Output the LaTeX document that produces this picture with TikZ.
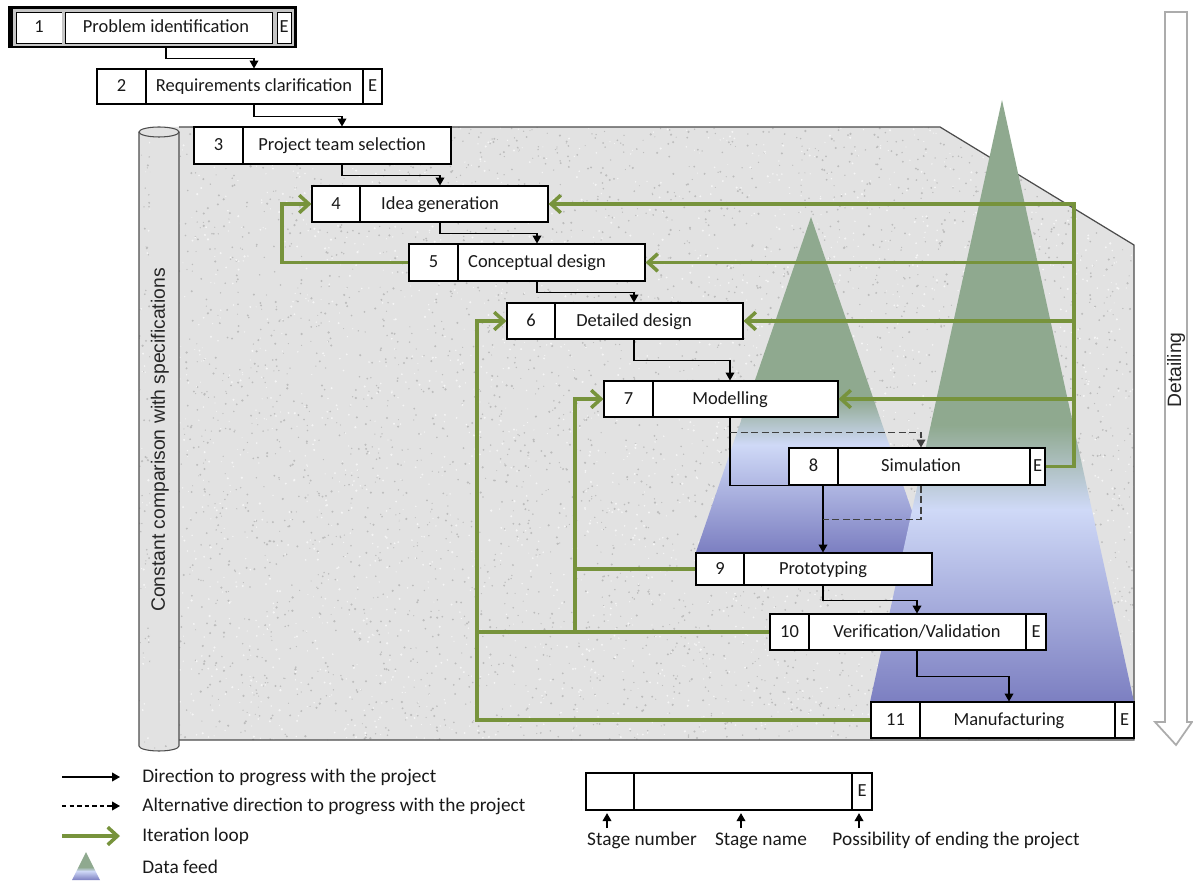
\documentclass[tikz,border=0pt]{standalone}
\usepackage{fontspec}
\setmainfont{Carlito}
\newfontfamily\arialfont{Liberation Sans}
\usetikzlibrary{arrows.meta,fit,calc}

\definecolor{granite}{HTML}{E2E2E2}
\definecolor{speckdark}{HTML}{BCBCBC}
\definecolor{specklight}{HTML}{F5F5F5}
\definecolor{iterG}{HTML}{77933C}
\definecolor{feedG}{HTML}{8FA98F}
\definecolor{feedL}{HTML}{CFD9F7}
\definecolor{feedD}{HTML}{7C7FC1}
\pgfdeclareverticalshading{feedshade}{100bp}{color(0bp)=(feedD); color(25bp)=(feedD); color(41bp)=(feedL); color(48bp)=(feedG); color(100bp)=(feedG)}

\tikzset{
  stagebox/.style={draw=black, line width=0.6pt, fill=white, inner sep=0pt},
  boldcell/.style={draw=black, line width=0.5pt, fill=white, inner sep=0pt,
    preaction={draw=gray!45, line width=3.5pt}},
  cellline/.style={draw=black, line width=0.6pt},
  celltext/.style={font=\fontsize{10.5}{12}\selectfont, text=black!90, inner sep=0pt,
    text height=8pt, text depth=1.8pt},
  legendtext/.style={font=\fontsize{11}{13}\selectfont, text=black!90, inner sep=0pt,
    text height=8pt, text depth=2pt},
  flow/.style={draw=black, line width=0.6pt, -{Triangle[length=4.5pt,width=5pt]}},
  altflow/.style={draw=black!75, line width=0.6pt, dash pattern=on 4pt off 2pt,
    -{Triangle[length=4.5pt,width=5pt]}},
  altline/.style={draw=black!75, line width=0.6pt, dash pattern=on 4pt off 2pt},
  iter/.style={draw=iterG, line width=2pt},
  iterarrow/.style={iter, -{Straight Barb[length=5.5pt,width=10pt]}},
  sidetext/.style={rotate=90, font=\arialfont\fontsize{11}{13}\selectfont, text=black!85, inner sep=0pt},
}

% stage box: name, x1, y1, x2, y2, divider x, E divider x (0 = none), number
\newcommand\stage[8]{%
  \node[stagebox, fit={(#2,#3) (#4,#5)}] (#1) {};
  \draw[cellline] (#6,#3) -- (#6,#5);
  \node[celltext] (#1n) at ({(#2+#6)/2},{(#3+#5)/2}) {#8};
  \ifnum#7>0
    \draw[cellline] (#7,#3) -- (#7,#5);
    \node[celltext] (#1e) at ({(#7+#4)/2},{(#3+#5)/2}) {E};
  \fi
}

\begin{document}
\begin{tikzpicture}[x=0.02cm, y=-0.02cm]
\useasboundingbox (0,0) rectangle (1193,881);

% textured work area and the specification cylinder
\fill[granite] (150,127) -- (940,127) -- (1134,245) -- (1134,740) -- (150,740) -- cycle;
\fill[granite] (139,132) -- (139,746)
  arc[start angle=180, end angle=360, x radius=0.4cm, y radius=0.1cm]
  -- (179,132) arc[start angle=0, end angle=180, x radius=0.4cm, y radius=0.1cm] -- cycle;
\begin{scope}
  \clip (150,127) -- (940,127) -- (1134,245) -- (1134,740) -- (150,740) -- cycle
        (139,127) rectangle (179,752);
  \pgfmathsetseed{4242}
  \foreach \i in {1,...,4200} {
    \fill[speckdark] ({139+995*rnd},{127+625*rnd}) circle ({0.3pt+0.4pt*rnd});
  }
  \foreach \i in {1,...,2600} {
    \fill[specklight] ({139+995*rnd},{127+625*rnd}) circle ({0.3pt+0.4pt*rnd});
  }
\end{scope}
\draw[black!70, line width=0.7pt] (179,127) -- (940,127) -- (1134,245) -- (1134,740) -- (179,740);
\draw[black!70, line width=0.6pt] (139,132) -- (139,746)
  arc[start angle=180, end angle=360, x radius=0.4cm, y radius=0.1cm] -- (179,132);
\draw[black!70, line width=0.6pt, fill=granite] (159,132) ellipse [x radius=0.4cm, y radius=0.1cm];
\node[sidetext] (spec) at (160,440) {Constant comparison with specifications};

% data feed cones
\shade[shading=feedshade] (811,217) -- (926,552) -- (696,552) -- cycle;
\shade[shading=feedshade] (1002,100) -- (1134,702) -- (870,702) -- cycle;

% detailing arrow
\draw[gray!65, line width=1pt, fill=white] (1165,12) -- (1187,12) -- (1187,722) -- (1192,722)
  -- (1176,745) -- (1155,722) -- (1165,722) -- cycle;
\node[sidetext] (det) at (1176,370) {Detailing};

% stage 1 with its bold frame
\node[fit={(8,6) (297,48)}, inner sep=0pt, fill=black] (s1) {};
\node[boldcell, fit={(16,12) (62,43)}] (s1a) {};
\node[boldcell, fit={(65,12) (272,43)}] (s1b) {};
\node[boldcell, fit={(277,12) (291,43)}] (s1c) {};
\node[celltext] (s1n) at (39,27.5) {1};
\node[celltext] (s1t) at (166,27.5) {Problem identification};
\node[celltext] (s1e) at (284,27.5) {E};

% stages 2-11
\stage{s2}{97}{69}{382}{104}{146}{363}{2}
\stage{s3}{194}{127}{451}{164}{243}{0}{3}
\stage{s4}{312}{186}{548}{222}{360}{0}{4}
\stage{s5}{409}{244}{645}{281}{458}{0}{5}
\stage{s6}{507}{303}{743}{339}{555}{0}{6}
\stage{s7}{604}{381}{838}{417}{653}{0}{7}
\stage{s8}{789}{448}{1045}{485}{838}{1030}{8}
\stage{s9}{696}{553}{932}{585}{744}{0}{9}
\stage{s10}{770}{614}{1046}{650}{809}{1026}{10}
\stage{s11}{871}{702}{1134}{738}{920}{1115}{11}

\node[celltext] (s2t) at (254,86.5) {Requirements clarification};
\node[celltext] (s3t) at (342,145.5) {Project team selection};
\node[celltext] (s4t) at (440,204) {Idea generation};
\node[celltext] (s5t) at (537,262.5) {Conceptual design};
\node[celltext] (s6t) at (634,321) {Detailed design};
\node[celltext] (s7t) at (730,399) {Modelling};
\node[celltext] (s8t) at (921,466.5) {Simulation};
\node[celltext] (s9t) at (823,569) {Prototyping};
\node[celltext] (s10t) at (917,632) {Verification/Validation};
\node[celltext] (s11t) at (1009,720) {Manufacturing};

% iteration loops
\coordinate (rx) at (1074,0);
\coordinate (lxa) at (575,0);
\coordinate (lxb) at (477,0);
\coordinate (lxc) at (282,0);
\draw[iterarrow] (s8.east) -| (rx |- s4.east) -- (s4.east);
\draw[iterarrow] (rx |- s5.east) -- (s5.east);
\draw[iterarrow] (rx |- s6.east) -- (s6.east);
\draw[iterarrow] (rx |- s7.east) -- (s7.east);
\draw[iterarrow] (s5.west) -| (lxc |- s4.west) -- (s4.west);
\draw[iter] (s9.west) -- (lxa |- s9.west);
\draw[iter] (s10.west) -- (lxb |- s10.west);
\draw[iterarrow] (lxa |- s10.west) |- (s7.west);
\draw[iterarrow] (s11.west) -| (lxb |- s6.west) -- (s6.west);

% progress direction
\draw[flow] (s1t |- s1.south) -- ++(0,10) -| (s2t |- s2.north);
\draw[flow] (s2t |- s2.south) -- ++(0,12) -| (s3t |- s3.north);
\draw[flow] (s3t |- s3.south) -- ++(0,11) -| (s4t |- s4.north);
\draw[flow] (s4t |- s4.south) -- ++(0,11) -| (s5t |- s5.north);
\draw[flow] (s5t |- s5.south) -- ++(0,11) -| (s6t |- s6.north);
\draw[flow] (s6t |- s6.south) -- ++(0,21) -| (s7t |- s7.north);
\draw[flow] (s7t |- s7.south) |- (s9t |- s8.south) -- (s9t |- s9.north);
\draw[altflow] (s7t |- s7.south) ++(0,15) -| (s8t |- s8.north);
\coordinate (j89) at ($(s9t |- s8.south)+(0,34)$);
\draw[altline] (s8t |- s8.south) |- (j89);
\draw[flow] (s9t |- s9.south) -- ++(0,15) -| (s10t |- s10.north);
\draw[flow] (s10t |- s10.south) -- ++(0,26) -| (s11t |- s11.north);

% legend
\coordinate (la1) at (62,777);  \coordinate (la2) at (120,777);
\coordinate (lb1) at (62,806);  \coordinate (lb2) at (120,806);
\coordinate (lc1) at (62,836);  \coordinate (lc2) at (120,836);
\draw[flow] (la1) -- (la2);
\draw[altflow, draw=black, dash pattern=on 2.5pt off 1.8pt] (lb1) -- (lb2);
\draw[iterarrow] (lc1) -- (lc2);
\shade[shading=feedshade] (86,852) -- (100,880) -- (72,880) -- cycle;
\node[legendtext, anchor=west] (lt1) at (142,777) {Direction to progress with the project};
\node[legendtext, anchor=west] (lt2) at (142,806) {Alternative direction to progress with the project};
\node[legendtext, anchor=west] (lt3) at (142,836) {Iteration loop};
\node[legendtext, anchor=west] (lt4) at (142,868) {Data feed};

\node[stagebox, fit={(586,773) (872,810)}] (lg) {};
\draw[cellline] (634,773) -- (634,810);
\draw[cellline] (852,773) -- (852,810);
\node[celltext] (lge) at (862,791.5) {E};
\coordinate (lp1) at (607,828);
\coordinate (lp2) at (741,828);
\coordinate (lp3) at (859,828);
\draw[flow, shorten >=1.5pt] (lp1) -- (lp1 |- lg.south);
\draw[flow, shorten >=1.5pt] (lp2) -- (lp2 |- lg.south);
\draw[flow, shorten >=1.5pt] (lp3) -- (lp3 |- lg.south);
\node[legendtext] (lpt1) at (642,840) {Stage number};
\node[legendtext] (lpt2) at (761,840) {Stage name};
\node[legendtext] (lpt3) at (956,840) {Possibility of ending the project};
\end{tikzpicture}
\end{document}
